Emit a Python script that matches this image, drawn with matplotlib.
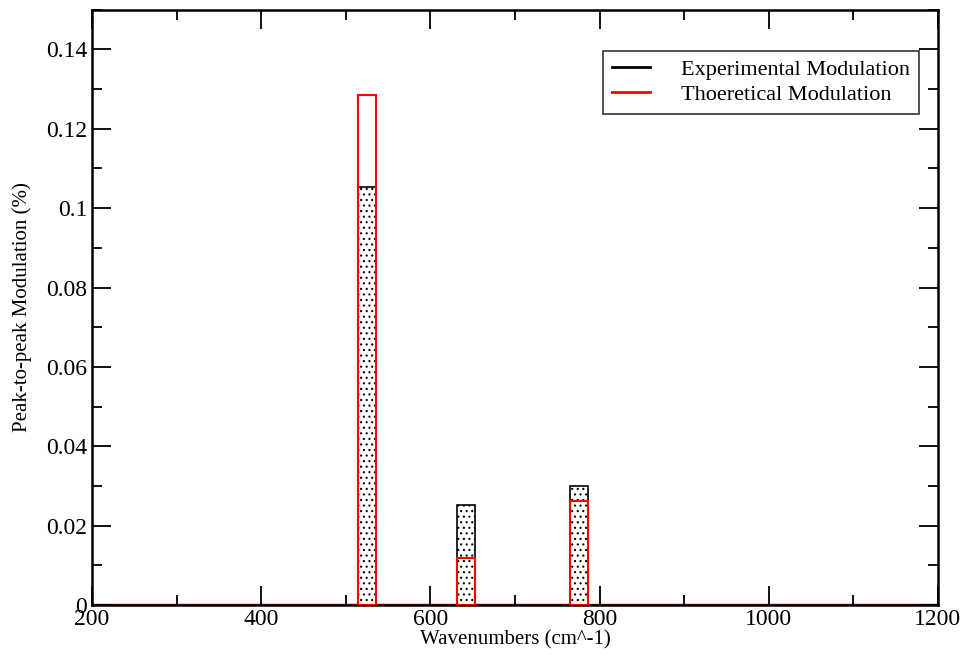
import matplotlib.pyplot as plt
from matplotlib.ticker import MultipleLocator

# 数据：波数位置与调制幅度
wavenumbers = [525, 642, 776]
bar_width = 21
exp_mod = [0.1054, 0.0253, 0.0301]
theo_mod = [0.1284, 0.0119, 0.0263]

plt.rcParams['font.family'] = ['Liberation Serif', 'DejaVu Serif']
plt.rcParams['hatch.linewidth'] = 0.8

fig = plt.figure(figsize=(9.65, 6.59), dpi=100)
ax = fig.add_axes([0.0953, 0.0819, 0.8767, 0.9033])

ax.axhline(0, color='red', lw=2.5, zorder=1)

ax.bar(wavenumbers, exp_mod, width=bar_width, facecolor='white', edgecolor='black',
       hatch='...', linewidth=1.2, zorder=2)
ax.bar(wavenumbers, theo_mod, width=bar_width, facecolor='none', edgecolor='red',
       linewidth=1.5, zorder=3)

# 图例用线段
ax.plot([], [], color='black', lw=2, label='Experimental Modulation')
ax.plot([], [], color='red', lw=2, label='Thoeretical Modulation')
leg = ax.legend(loc='upper right', bbox_to_anchor=(0.977, 0.931), fontsize=16,
                frameon=True, fancybox=False, edgecolor='black', handlelength=1.7,
                handletextpad=1.4, borderpad=0.4, labelspacing=0.2, borderaxespad=0)
leg.get_frame().set_linewidth(1.2)

ax.set_xlim(200, 1200)
ax.set_ylim(0, 0.15)
ax.xaxis.set_major_locator(MultipleLocator(200))
ax.xaxis.set_minor_locator(MultipleLocator(100))
ax.yaxis.set_minor_locator(MultipleLocator(0.01))
ax.set_yticks([0, 0.02, 0.04, 0.06, 0.08, 0.1, 0.12, 0.14])
ax.set_yticklabels(['0', '0.02', '0.04', '0.06', '0.08', '0.1', '0.12', '0.14'])

ax.tick_params(which='both', direction='in', top=True, right=True, labelsize=17, width=1.3)
ax.tick_params(which='major', length=14)
ax.tick_params(which='minor', length=7)
ax.tick_params(axis='x', pad=3)
for s in ax.spines.values():
    s.set_linewidth(1.8)

ax.set_xlabel('Wavenumbers (cm^-1)', fontsize=15, labelpad=0)
ax.set_ylabel('Peak-to-peak Modulation (%)', fontsize=15, labelpad=10)

plt.savefig('out.png', dpi=100)
